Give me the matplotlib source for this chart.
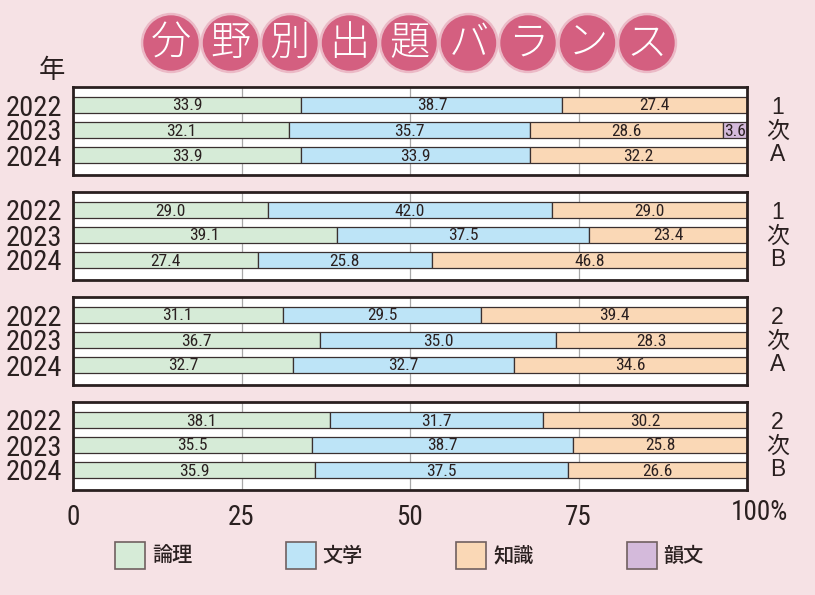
import matplotlib
matplotlib.use("Agg")
import matplotlib.pyplot as plt
from matplotlib import font_manager
from matplotlib.patches import Circle, Rectangle

# pick a narrow latin face if one is installed
narrow = None
for name in ["Liberation Sans Narrow", "Roboto Condensed", "DejaVu Sans Condensed",
             "Open Sans Condensed", "Noto Sans Condensed"]:
    try:
        font_manager.findfont(font_manager.FontProperties(family=name), fallback_to_default=False)
        narrow = name
        break
    except Exception:
        pass
latin = narrow or "Liberation Sans"
scale = 1.0 if narrow else 0.9
plt.rcParams["font.family"] = [latin, "Noto Sans CJK JP", "DejaVu Sans"]
cjk = ["Noto Sans CJK JP", "DejaVu Sans"]

# data
years = ["2022", "2023", "2024"]
exams = ["1\n次\nA", "1\n次\nB", "2\n次\nA", "2\n次\nB"]
categories = ["論理", "文学", "知識", "韻文"]
exam_1a = [[33.9, 38.7, 27.4, 0.0], [32.1, 35.7, 28.6, 3.6], [33.9, 33.9, 32.2, 0.0]]
exam_1b = [[29.0, 42.0, 29.0, 0.0], [39.1, 37.5, 23.4, 0.0], [27.4, 25.8, 46.8, 0.0]]
exam_2a = [[31.1, 29.5, 39.4, 0.0], [36.7, 35.0, 28.3, 0.0], [32.7, 32.7, 34.6, 0.0]]
exam_2b = [[38.1, 31.7, 30.2, 0.0], [35.5, 38.7, 25.8, 0.0], [35.9, 37.5, 26.6, 0.0]]
panels = [exam_1a, exam_1b, exam_2a, exam_2b]
x_ticks = [0, 25, 50, 75]
title_chars = list("分野別出題バランス")

colors = ["#d6ebd7", "#bde4f7", "#fad8b6", "#d4badb"]
bg = "#f6e2e5"
dark = "#2a2020"

W, H = 815, 595
fig = plt.figure(figsize=(W / 100, H / 100), dpi=100, facecolor=bg)

def px_axes(x0, y0, x1, y1):
    return fig.add_axes([x0 / W, 1 - y1 / H, (x1 - x0) / W, (y1 - y0) / H])

# overlay in pixel coords for title, legend
tax = fig.add_axes([0, 0, 1, 1])
tax.set_xlim(0, W)
tax.set_ylim(H, 0)
tax.set_axis_off()
for i, ch in enumerate(title_chars):
    cx = 171 + i * 59.5
    tax.add_patch(Circle((cx, 43), 29.5, color="#ebb9c6", zorder=1))
    tax.add_patch(Circle((cx, 43), 27, color="#d45f80", zorder=2))
    tax.text(cx, 44, ch, color="white", fontsize=29, ha="center", va="center",
             family=cjk, fontweight="light", zorder=3)
tax.text(52, 70, "年", fontsize=19, ha="center", va="center", color=dark, family=cjk)

tops = [87, 192, 297, 402]
for p, (rows, top) in enumerate(zip(panels, tops)):
    ax = px_axes(73, top, 747, top + 88)
    ax.set_xlim(0, 100)
    ax.set_ylim(2.8, -0.72)
    ax.set_facecolor("white")
    for g in (25, 50, 75):
        ax.axvline(g, color="#a8a8a8", lw=0.9, zorder=0)
    for r, vals in enumerate(rows):
        left = 0.0
        for c, v in enumerate(vals):
            if v <= 0:
                continue
            ax.barh(r, v, left=left, height=0.66, color=colors[c],
                    edgecolor="#3a3030", lw=0.9, zorder=2)
            ax.text(left + v / 2, r + 0.04, f"{v:.1f}", ha="center", va="center",
                    fontsize=12.5 * scale, color=dark, zorder=3)
            left += v
    ax.set_yticks(range(3))
    ax.set_yticklabels(years, fontsize=20.5 * scale, color=dark)
    ax.tick_params(axis="y", length=0, pad=8)
    for s in ax.spines.values():
        s.set_linewidth(2)
        s.set_color(dark)
    if p == 3:
        ax.set_xticks(x_ticks)
        ax.set_xticklabels([str(t) for t in x_ticks], fontsize=19.5 * scale, color=dark)
        ax.tick_params(axis="x", length=0, pad=10)
        ax.text(97.6, -0.25, "100%", transform=ax.get_xaxis_transform(),
                fontsize=19.5 * scale, color=dark, ha="left", va="center")
    else:
        ax.set_xticks([])
    ax.text(1.045, 0.5, exams[p], transform=ax.transAxes, fontsize=16.5,
            ha="center", va="center", color=dark, linespacing=1.05,
            family=["Liberation Sans", "Noto Sans CJK JP"])

# legend
for i, (lab, col) in enumerate(zip(categories, colors)):
    x0 = 115 + i * 170.5
    tax.add_patch(Rectangle((x0, 542), 30, 27, facecolor=col, edgecolor="#706060", lw=1.2))
    tax.text(x0 + 37, 556, lab, fontsize=14.5, va="center", ha="left", color=dark,
             family=cjk, fontweight="medium")

fig.savefig("out.png", dpi=100, facecolor=bg)
